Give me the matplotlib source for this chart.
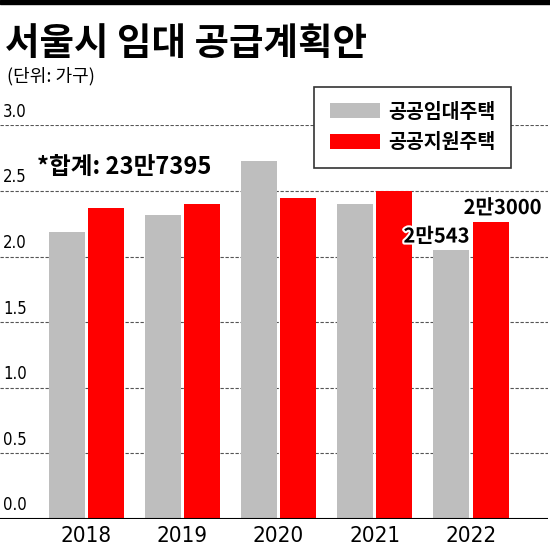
import numpy as np
import matplotlib.pyplot as plt
from matplotlib import patheffects as pe

# 서울시 임대 공급계획 (단위: 만 가구)
years = ['2018', '2019', '2020', '2021', '2022']
rental = [2.19, 2.32, 2.73, 2.40, 2.05]    # 공공임대주택
support = [2.37, 2.40, 2.45, 2.50, 2.26]   # 공공지원주택
yticks = [0.0, 0.5, 1.0, 1.5, 2.0, 2.5, 3.0]
series_names = ['공공임대주택', '공공지원주택']

kr = ['Noto Sans CJK KR', 'DejaVu Sans']
num = ['DejaVu Sans', 'Noto Sans CJK KR']

W = 550
fig = plt.figure(figsize=(5.5, 5.5), dpi=100)
ax = fig.add_axes([0, 1 - 519 / W, 548 / W, (519 - 125.4) / W])

x = np.arange(len(years))
w = 0.374
off = 0.203
b1 = ax.bar(x - off, rental, w, color='#bebebe', zorder=2, label=series_names[0])
b2 = ax.bar(x + off, support, w, color='#ff0000', zorder=2, label=series_names[1])
ax.set_xlim(-0.894, 4.80)
ax.set_ylim(0, 3.0)

for v in yticks[1:]:
    ax.axhline(v, color='#555555', lw=0.8, ls=(0, (3, 1.5)), zorder=1)
ax.axhline(0, color='black', lw=1.5, zorder=3)
for s in ax.spines.values():
    s.set_visible(False)

ax.set_yticks([])
ax.set_xticks(x)
ax.set_xticklabels(years, family=num, fontsize=16, fontstretch='condensed')
ax.tick_params(axis='x', length=0, pad=5)

# y 눈금 글자는 선 위에
for v in yticks:
    ax.annotate(f'{v:.1f}', xy=(0, v), xycoords=('axes fraction', 'data'),
                xytext=(3, 8.5), textcoords='offset pixels', fontstretch='condensed',
                fontsize=12, family=num, ha='left', va='baseline')

# 2022 값 표시
stroke = [pe.withStroke(linewidth=3, foreground='white')]
ax.annotate('2만543', xy=(x[4] - off, rental[4]), xytext=(-15, 14),
            textcoords='offset pixels', ha='center', va='center',
            fontsize=14.5, fontweight='bold', family=kr, path_effects=stroke, zorder=5)
ax.annotate('2만3000', xy=(x[4] + off, support[4]), xytext=(12, 15),
            textcoords='offset pixels', ha='center', va='center',
            fontsize=14.5, fontweight='bold', family=kr, path_effects=stroke, zorder=5)

leg = ax.legend(handles=[b1, b2], loc='upper left',
                bbox_to_anchor=(314 / W, 1 - 87 / W), bbox_transform=fig.transFigure,
                prop={'family': kr, 'size': 14, 'weight': 'black'},
                frameon=True, fancybox=False, edgecolor='#333333', framealpha=1,
                handlelength=2.6, handleheight=0.8, handletextpad=0.4,
                labelspacing=0.6, borderpad=0.8, borderaxespad=0)
leg.get_frame().set_linewidth(1.2)

# 제목들
fig.add_artist(plt.Rectangle((0, 1 - 3.5 / W), 1, 3.5 / W, transform=fig.transFigure,
                             color='black'))
fig.text(5 / W, 1 - 55 / W, '서울시 임대 공급계획안', fontsize=27, fontweight='black',
         family=kr, va='baseline')
fig.text(7 / W, 1 - 81 / W, '(단위: 가구)', fontsize=13, family=kr, va='baseline')
fig.text(37 / W, 1 - 174 / W, '*합계: 23만7395', fontsize=17, fontweight='bold',
         family=kr, va='baseline')

fig.savefig('out.png', dpi=100)
